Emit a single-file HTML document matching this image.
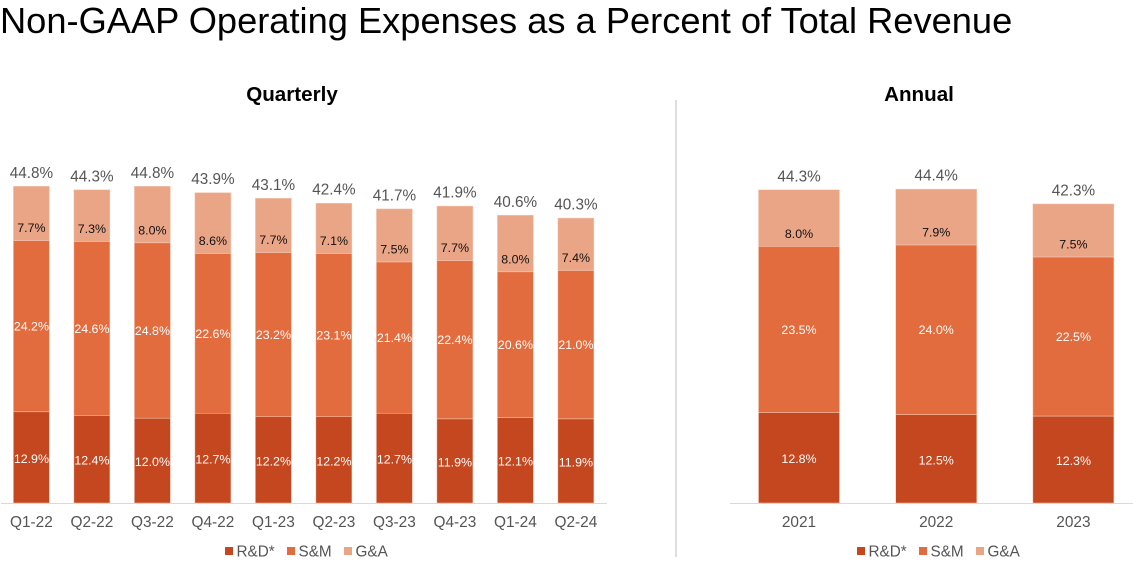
<!DOCTYPE html>
<html lang="en">
<head>
<meta charset="utf-8">
<title>Non-GAAP Operating Expenses as a Percent of Total Revenue</title>
<style>
html,body{margin:0;padding:0;background:#fff;width:1133px;height:567px;overflow:hidden}
svg{display:block;font-family:"Liberation Sans",Arial,sans-serif}
</style>
</head>
<body>
<svg id="chart" width="1133" height="567" viewBox="0 0 1133 567" xmlns="http://www.w3.org/2000/svg">
  <text x="0" y="33" font-size="36.25" fill="#000">Non-GAAP Operating Expenses as a Percent of Total Revenue</text>
  <text x="292" y="101" font-size="20.6" font-weight="bold" text-anchor="middle" fill="#000">Quarterly</text>
  <text x="919" y="101" font-size="20.6" font-weight="bold" text-anchor="middle" fill="#000">Annual</text>
  <line x1="676" y1="100" x2="676" y2="557" stroke="#c9c9c9" stroke-width="1.2"/>
  <g id="quarterly"></g>
  <g id="annual"></g>
</svg>
<script>
const quarterCategories = ['Q1-22','Q2-22','Q3-22','Q4-22','Q1-23','Q2-23','Q3-23','Q4-23','Q1-24','Q2-24'];
const quarterRD = [12.9,12.4,12.0,12.7,12.2,12.2,12.7,11.9,12.1,11.9];
const quarterSM = [24.2,24.6,24.8,22.6,23.2,23.1,21.4,22.4,20.6,21.0];
const quarterGA = [7.7,7.3,8.0,8.6,7.7,7.1,7.5,7.7,8.0,7.4];
const quarterTotals = [44.8,44.3,44.8,43.9,43.1,42.4,41.7,41.9,40.6,40.3];

const annualCategories = ['2021','2022','2023'];
const annualRD = [12.8,12.5,12.3];
const annualSM = [23.5,24.0,22.5];
const annualGA = [8.0,7.9,7.5];
const annualTotals = [44.3,44.4,42.3];

const seriesNames = ['R&D*','S&M','G&A'];

const NS = 'http://www.w3.org/2000/svg';
const BASE_Y = 503;
const UNIT = 7.07;
const COLORS = ['#C4471F','#E36C3E','#EAA486'];
const INK = '#555555';

function yScale(v){ return BASE_Y - v * UNIT; }

function addText(parent, str, x, cy, size, fill, anchor){
  const t = document.createElementNS(NS,'text');
  t.setAttribute('x', x);
  t.setAttribute('y', cy + size * 0.36);
  t.setAttribute('font-size', size);
  t.setAttribute('fill', fill);
  t.setAttribute('text-anchor', anchor || 'middle');
  t.textContent = str;
  parent.appendChild(t);
  return t;
}

function drawPanel(root, cfg){
  const xScale = i => cfg.x0 + i * cfg.step;

  const axis = document.createElementNS(NS,'line');
  
  
  axis.setAttribute('x1', cfg.axis[0]);
  axis.setAttribute('x2', cfg.axis[1]);
  axis.setAttribute('y1', BASE_Y + 0.5);
  axis.setAttribute('y2', BASE_Y + 0.5);
  axis.setAttribute('stroke', '#d9d9d9');
  axis.setAttribute('stroke-width', '1');
  root.appendChild(axis);

  cfg.categories.forEach((cat, i) => {
    const cx = xScale(i);
    let cum = 0;
    let topY = BASE_Y;
    cfg.series.forEach((vals, s) => {
      const v = vals[i];
      const y0 = yScale(cum);
      const y1 = yScale(cum + v);
      cum += v;
      topY = y1;
      const r = document.createElementNS(NS,'rect');
      
      
      r.setAttribute('x', cx - cfg.width / 2);
      r.setAttribute('y', y1);
      r.setAttribute('width', cfg.width);
      r.setAttribute('height', y0 - y1);
      r.setAttribute('fill', COLORS[s]);
      r.setAttribute('stroke', '#F6CDBB');
      r.setAttribute('stroke-width', '0.5');
      root.appendChild(r);

      const cy = s === 2 ? y0 - 13 : (y0 + y1) / 2 + (s === 0 ? 1 : 0);
      const lab = addText(root, v.toFixed(1) + '%', cx, cy, 12.4, s === 2 ? '#111111' : '#FFFFFF');
      
      
    });

    const total = addText(root, cfg.totals[i].toFixed(1) + '%', cx, topY - 14, 15.3, INK);
    
    

    const tick = addText(root, cat, cx, 521.5, 15.4, INK);
    
    
  });

  seriesNames.forEach((name, s) => {
    const lx = cfg.legend[s];
    const swatch = document.createElementNS(NS,'rect');
    
    
    swatch.setAttribute('x', lx);
    swatch.setAttribute('y', 547);
    swatch.setAttribute('width', 8);
    swatch.setAttribute('height', 8);
    swatch.setAttribute('fill', COLORS[s]);
    root.appendChild(swatch);
    const lt = addText(root, name, lx + 11.5, 551, 15.3, INK, 'start');
    
    
  });
}

drawPanel(document.getElementById('quarterly'), {
  categories: quarterCategories,
  series: [quarterRD, quarterSM, quarterGA],
  totals: quarterTotals,
  x0: 31.4, step: 60.5, width: 36,
  axis: [1, 607],
  legend: [225, 287, 344]
});
drawPanel(document.getElementById('annual'), {
  categories: annualCategories,
  series: [annualRD, annualSM, annualGA],
  totals: annualTotals,
  x0: 799, step: 137.2, width: 81,
  axis: [730, 1133],
  legend: [857, 919, 976]
});
</script>
</body>
</html>
